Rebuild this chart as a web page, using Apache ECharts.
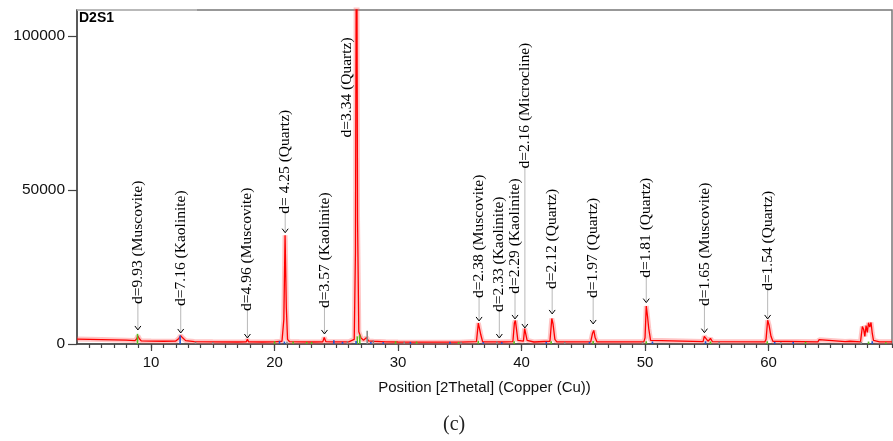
<!DOCTYPE html>
<html>
<head>
<meta charset="utf-8">
<script src="https://cdn.jsdelivr.net/npm/echarts@6/dist/echarts.min.js"></script>
<style>
html,body{margin:0;padding:0;background:#fff;}
#chart{width:893px;height:441px;}
</style>
</head>
<body>
<div id="chart"></div>
<script>
// ---- Data ----
const profX = [4, 6, 8, 8.7, 8.85, 8.93, 9.05, 9.2, 10, 11, 12, 12.25, 12.4, 12.55, 12.8, 13.5, 15, 17, 17.7, 17.8, 17.9, 19, 20, 20.6, 20.75, 20.85, 20.95, 21.05, 21.2, 22, 23, 23.9, 24.02, 24.15, 24.7, 24.85, 25, 26, 26.45, 26.55, 26.64, 26.72, 26.82, 27, 27.2, 27.45, 27.6, 28, 29, 30, 35, 36.35, 36.5, 36.6, 36.7, 36.85, 38.1, 38.2, 38.3, 39.3, 39.42, 39.5, 39.6, 39.7, 40.15, 40.25, 40.35, 40.45, 41, 42.3, 42.45, 42.55, 42.7, 42.85, 45.6, 45.75, 45.85, 45.95, 46.1, 49.9, 50.0, 50.1, 50.2, 50.3, 50.45, 50.6, 54.7, 54.8, 54.9, 55.1, 55.3, 55.45, 59.7, 59.8, 59.93, 60.05, 60.2, 60.35, 64, 64.1, 64.25, 66.2, 66.3, 66.6, 66.7, 67.45, 67.5, 67.6, 67.7, 67.8, 67.9, 68.0, 68.1, 68.2, 68.3, 68.4, 68.5, 69, 70];
const profY = [1600, 1450, 1250, 1100, 1800, 2600, 1700, 1000, 950, 900, 950, 1800, 2700, 2000, 1100, 800, 700, 650, 700, 1500, 700, 650, 700, 900, 8000, 35300, 12000, 1500, 800, 700, 650, 700, 2100, 800, 700, 1200, 700, 700, 1500, 30000, 160000, 40000, 4000, 2000, 1200, 2100, 1000, 900, 700, 650, 600, 800, 6800, 7200, 3000, 700, 700, 1100, 650, 800, 6800, 7600, 4500, 1200, 900, 5000, 4600, 1200, 650, 900, 8300, 6500, 1500, 700, 700, 3500, 4400, 2200, 700, 700, 2000, 12300, 9000, 5000, 1200, 700, 800, 2500, 2000, 900, 1800, 800, 700, 1500, 7700, 6000, 2500, 900, 700, 1400, 800, 800, 900, 900, 700, 700, 1000, 5700, 4800, 2500, 6000, 3800, 6900, 5500, 7000, 3500, 1200, 700, 700];

const greenX = [8.9, 20.0, 21.5, 22.6, 23.0, 26.7, 26.9, 29.8, 31.5, 34.9, 36.5, 39.4, 42.4, 45.8, 50.1, 55.3, 59.9, 63.0, 68.1, 69.5];
const greenY = [3300, 900, 800, 700, 700, 2500, 3000, 900, 800, 700, 1000, 900, 900, 1000, 900, 800, 900, 700, 800, 600];
const blueX = [12.35, 20.4, 20.8, 24.8, 25.5, 26.6, 27.8, 28.8, 31.0, 34.2, 36.9, 38.4, 42.0, 45.5, 50.6, 54.9, 60.5, 62.0, 68.4];
const blueY = [2800, 1000, 800, 1200, 700, 1000, 700, 600, 700, 700, 600, 600, 700, 700, 800, 900, 700, 700, 900];
const grayX = [13.6, 15.0, 21.0, 25.9, 27.5, 28.0, 30.5, 35.1, 38.0, 43.5, 49.8, 56.0, 61.0, 67.5];
const grayY = [700, 600, 700, 900, 4300, 1200, 800, 700, 800, 700, 700, 700, 600, 700];

const annX = [8.93, 12.4, 17.8, 20.86, 24.04, 25.85, 36.56, 38.2, 39.47, 40.27, 42.48, 45.8, 50.1, 54.81, 59.93];
const annLabels = ['d=9.93 (Muscovite)', 'd=7.16 (Kaolinite)', 'd=4.96 (Muscovite)', 'd= 4.25 (Quartz)', 'd=3.57 (Kaolinite)', 'd=3.34 (Quartz)', 'd=2.38 (Muscovite)', 'd=2.33 (Kaolinite)', 'd=2.29 (Kaolinite)', 'd=2.16 (Microcline)', 'd=2.12 (Quartz)', 'd=1.97 (Quartz)', 'd=1.81 (Quartz)', 'd=1.65 (Muscovite)', 'd=1.54 (Quartz)'];
const annTip = [4560, 3580, 1950, 36150, 3260, null, 7490, 1950, 8140, 5210, 9770, 6510, 13450, 3680, 8140];
const annBase = [13030, 12380, 10750, 42340, 11730, 67100, 14980, 10400, 16290, 57000, 17900, 14980, 21500, 12380, 17260];

const xMajorTicks = [10, 20, 30, 40, 50, 60];
const xMinorTicks = [];
for (let v = 5; v <= 70; v++) xMinorTicks.push(v);
const yTicks = [0, 50000, 100000];
const xTitle = 'Position [2Thetal] (Copper (Cu))';
const sampleName = 'D2S1';
const panelLabel = '(c)';

// ---- Chart ----
const chart = echarts.init(document.getElementById('chart'), null, {renderer: 'canvas'});
const profile = profX.map((x, i) => [x, profY[i]]);

function stickSeries(xs, ys, color) {
  return {
    type: 'custom',
    xAxisIndex: 0, yAxisIndex: 0,
    data: xs.map((x, i) => [x, ys[i]]),
    encode: {x: 0, y: 1},
    z: 4,
    silent: true,
    renderItem: function (params, api) {
      const p0 = api.coord([api.value(0), 0]);
      const p1 = api.coord([api.value(0), api.value(1)]);
      return {type: 'line', shape: {x1: p0[0], y1: p0[1], x2: p1[0], y2: p1[1]}, style: {stroke: color, lineWidth: 1.6}};
    }
  };
}

const option = {
  animation: false,
  backgroundColor: '#fff',
  grid: {left: 77, right: 1, top: 10, bottom: 97, show: true, borderColor: '#777', borderWidth: 1.5, backgroundColor: 'transparent'},
  xAxis: [{
    type: 'value', min: 4, max: 70,
    name: xTitle, nameLocation: 'middle', nameGap: 36,
    nameTextStyle: {fontFamily: 'Liberation Sans', fontSize: 15, color: '#111'},
    axisLine: {show: true, lineStyle: {color: '#444', width: 1.5}},
    axisTick: {show: true, length: 7, customValues: xMajorTicks, lineStyle: {color: '#444', width: 1.2}},
    axisLabel: {customValues: xMajorTicks, margin: 11, fontFamily: 'Liberation Sans', fontSize: 15, color: '#111', formatter: v => String(v)},
    splitLine: {show: false}
  }, {
    type: 'value', min: 4, max: 70, position: 'bottom',
    axisLine: {show: false},
    axisTick: {show: true, length: 4, customValues: xMinorTicks, lineStyle: {color: '#444', width: 1.2}},
    axisLabel: {show: false},
    splitLine: {show: false}
  }],
  yAxis: {
    type: 'value', min: 0, max: 108500,
    axisLine: {show: true, lineStyle: {color: '#444', width: 1.5}},
    axisTick: {show: true, length: 9, customValues: yTicks, lineStyle: {color: '#444', width: 1.2}},
    axisLabel: {customValues: yTicks, margin: 12, fontFamily: 'Liberation Sans', fontSize: 15.5, color: '#111', formatter: v => String(v)},
    splitLine: {show: false}
  },
  series: [
    {
      type: 'line', data: profile, showSymbol: false, silent: true, clip: true,
      lineStyle: {color: 'rgba(255,90,90,0.35)', width: 5}, z: 2
    },
    {
      type: 'line', data: profile, showSymbol: false, silent: true, clip: true,
      lineStyle: {color: '#ff0000', width: 1.3}, z: 3
    },
    stickSeries(greenX, greenY, '#55bb22'),
    stickSeries(blueX, blueY, '#2255cc'),
    stickSeries(grayX, grayY, '#888888'),
    {
      type: 'custom',
      data: annX.map((x, i) => [x, annBase[i], i]),
      encode: {x: 0, y: 1},
      z: 5, silent: true,
      renderItem: function (params, api) {
        const i = api.value(2);
        const base = api.coord([annX[i], annBase[i]]);
        const children = [];
        if (annTip[i] !== null) {
          const tip = api.coord([annX[i], annTip[i]]);
          children.push({type: 'line', shape: {x1: tip[0], y1: tip[1] - 1, x2: base[0], y2: base[1] - 2}, style: {stroke: '#b8b8b8', lineWidth: 1}});
          children.push({type: 'polyline', shape: {points: [[tip[0] - 3, tip[1] - 4], [tip[0], tip[1]], [tip[0] + 3, tip[1] - 4]]}, style: {stroke: '#000', lineWidth: 1, fill: null}});
        }
        children.push({
          type: 'text', x: base[0], y: base[1], rotation: Math.PI / 2,
          style: {text: annLabels[i], fill: '#000', font: '15.5px "Liberation Serif"', align: 'left', verticalAlign: 'middle'}
        });
        return {type: 'group', children: children};
      }
    }
  ],
  graphic: [
    {type: 'line', shape: {x1: 77, y1: 10, x2: 197, y2: 10}, style: {stroke: '#c4c4c4', lineWidth: 1.5}, z: 100},
    {type: 'text', left: 79, top: 11, style: {text: sampleName, font: 'bold 14px "Liberation Sans"', fill: '#000'}, z: 100},
    {type: 'text', left: 443, top: 415, style: {text: panelLabel, font: '20px "Liberation Serif"', fill: '#222'}, z: 100}
  ]
};
chart.setOption(option);
</script>
</body>
</html>
